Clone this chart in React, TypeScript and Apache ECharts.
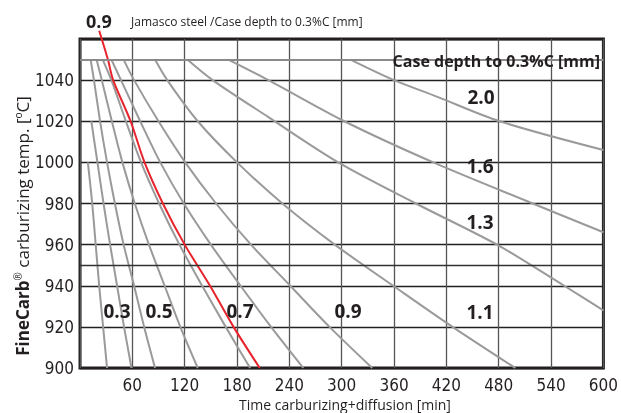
import React, { useEffect, useRef } from "react";
import * as echarts from "echarts";

// x: time [min], y: temperature [°C]
const xTicks = [60, 120, 180, 240, 300, 360, 420, 480, 540, 600];
const yTicks = [900, 920, 940, 960, 980, 1000, 1020, 1040];

const jamasco09 = [[22, 1064], [32, 1050], [38, 1040], [58, 1020], [74, 1000], [95, 980], [120, 960], [149, 940], [176, 920], [206, 900]];
const d03 = [[9, 1000], [14, 980], [18, 960], [22, 940], [26.5, 920], [31, 900]];
const d04 = [[13, 1020], [20, 1000], [27, 980], [34.5, 960], [42.5, 940], [50.5, 920], [59, 900]];
const d05 = [[12.2, 1050], [16, 1040], [23, 1020], [31, 1000], [40, 980], [50, 960], [62, 940], [73.5, 920], [86, 900]];
const d06 = [[19, 1050], [25, 1040], [36.5, 1020], [48.6, 1000], [62.8, 980], [79, 960], [97, 940], [115, 920], [135, 900]];
const d07 = [[26, 1050], [36, 1040], [52.6, 1020], [70, 1000], [90.7, 980], [114, 960], [140, 940], [167, 920], [195, 900]];
const d08 = [[36, 1050], [47, 1040], [69, 1020], [92, 1000], [119, 980], [150, 960], [184, 940], [219, 920], [256, 900]];
const d09 = [[50, 1050], [62, 1040], [90, 1020], [120.6, 1000], [156, 980], [196, 960], [241, 940], [286, 920], [335, 900]];
const d11 = [[86, 1050], [100, 1040], [135, 1020], [180, 1000], [232, 980], [292, 960], [359, 940], [427, 920], [499, 900]];
const d13 = [[123, 1050], [152, 1040], [216, 1022], [296, 1000], [385, 980], [478, 960], [555, 940], [600, 928]];
const d16 = [[170, 1050], [216, 1040], [303, 1020], [405, 1000], [519, 980], [600, 966]];
const d20 = [[310, 1050], [360, 1040], [409, 1032], [481, 1020], [600, 1006]];

const grayCurves = [d03, d04, d05, d06, d07, d08, d09, d11, d13, d16, d20];
const extraLines = [1050, 950];

const curveLabels = [
  { text: "0.3", x: 117, y: 311 },
  { text: "0.5", x: 159, y: 311 },
  { text: "0.7", x: 240, y: 311 },
  { text: "0.9", x: 348, y: 311 },
  { text: "1.1", x: 480, y: 312 },
  { text: "1.3", x: 480, y: 222 },
  { text: "1.6", x: 480, y: 166 },
  { text: "2.0", x: 481, y: 97 },
];

const tickFont = "'Liberation Sans Narrow', 'DejaVu Sans Condensed', 'Open Sans', sans-serif";
const textFont = "'Open Sans', 'Noto Sans', sans-serif";

export default function App() {
  const ref = useRef<HTMLDivElement>(null);
  useEffect(() => {
    if (!ref.current) return;
    const chart = echarts.init(ref.current, null, { renderer: "svg" });
    const series: any[] = grayCurves.map((d) => ({
      type: "line",
      data: d,
      smooth: 0.3,
      showSymbol: false,
      silent: true,
      z: 3,
      lineStyle: { color: "#9a9a9a", width: 2 },
    }));
    series.push({
      type: "line",
      data: jamasco09,
      smooth: 0.3,
      showSymbol: false,
      silent: true,
      clip: false,
      z: 4,
      lineStyle: { color: "#e8232b", width: 2 },
    });
    series.push({
      type: "line",
      data: [],
      silent: true,
      markLine: {
        silent: true,
        symbol: "none",
        label: { show: false },
        data: extraLines.map((v, i) => ({
          yAxis: v,
          lineStyle: { color: i === 0 ? "#8a8a8a" : "#333", width: i === 0 ? 2 : 1.3, type: "solid" },
        })),
      },
    });

    chart.setOption({
      animation: false,
      grid: {
        left: 80, top: 39, width: 528, height: 329,
        show: true, borderColor: "#231f20", borderWidth: 3, backgroundColor: "#fff", z: 0,
      },
      xAxis: {
        type: "value", min: 0, max: 600, interval: 60,
        axisLine: { show: false }, axisTick: { show: false },
        axisLabel: {
          color: "#231f20", fontSize: 17, fontFamily: tickFont, margin: 8,
          formatter: (v: number) => (xTicks.includes(v) ? String(v) : ""),
        },
        splitLine: { show: true, lineStyle: { color: "#555", width: 1.3 } },
      },
      yAxis: {
        type: "value", min: 900, max: 1060, interval: 20,
        axisLine: { show: false }, axisTick: { show: false },
        axisLabel: {
          color: "#231f20", fontSize: 17, fontFamily: tickFont, margin: 6,
          formatter: (v: number) => (yTicks.includes(v) ? String(v) : ""),
        },
        splitLine: { show: true, lineStyle: { color: "#231f20", width: 1.3 } },
      },
      series,
      graphic: [
        {
          type: "text", x: 86, y: 21,
          style: { text: "0.9", font: `bold 18px ${textFont}`, fill: "#231f20", verticalAlign: "middle" },
        },
        {
          type: "text", x: 131, y: 21,
          style: { text: "Jamasco steel /Case depth to 0.3%C [mm]", font: `12px ${textFont}`, fill: "#231f20", verticalAlign: "middle" },
        },
        {
          type: "text", x: 345, y: 404,
          style: {
            text: "Time carburizing+diffusion [min]", font: `14px ${textFont}`, fill: "#231f20",
            align: "center", verticalAlign: "middle",
          },
        },
        {
          type: "text", x: 22, y: 226, rotation: Math.PI / 2,
          style: {
            text: "{b|FineCarb}{s|®} carburizing temp. [{s|o}C]",
            align: "center", verticalAlign: "middle", fill: "#231f20",
            font: `17px ${textFont}`,
            rich: {
              b: { font: `bold 17px ${textFont}`, fill: "#231f20" },
              s: { font: `10px ${textFont}`, fill: "#231f20", verticalAlign: "top", padding: [0, 0, 8, 0] },
            },
          },
        },
        {
          type: "text", x: 600, y: 61, z: 10,
          style: {
            text: "Case depth to 0.3%C [mm]", font: `bold 16px ${textFont}`, fill: "#231f20",
            align: "right", verticalAlign: "middle",
          },
        },
        ...curveLabels.map((l) => ({
          type: "text", x: l.x, y: l.y, z: 10,
          style: {
            text: l.text, font: `bold 19px ${textFont}`, fill: "#231f20",
            align: "center", verticalAlign: "middle",
          },
        })),
      ],
    });
    return () => chart.dispose();
  }, []);
  return <div ref={ref} style={{ position: "fixed", left: 0, top: 0, width: 621, height: 413 }} />;
}
